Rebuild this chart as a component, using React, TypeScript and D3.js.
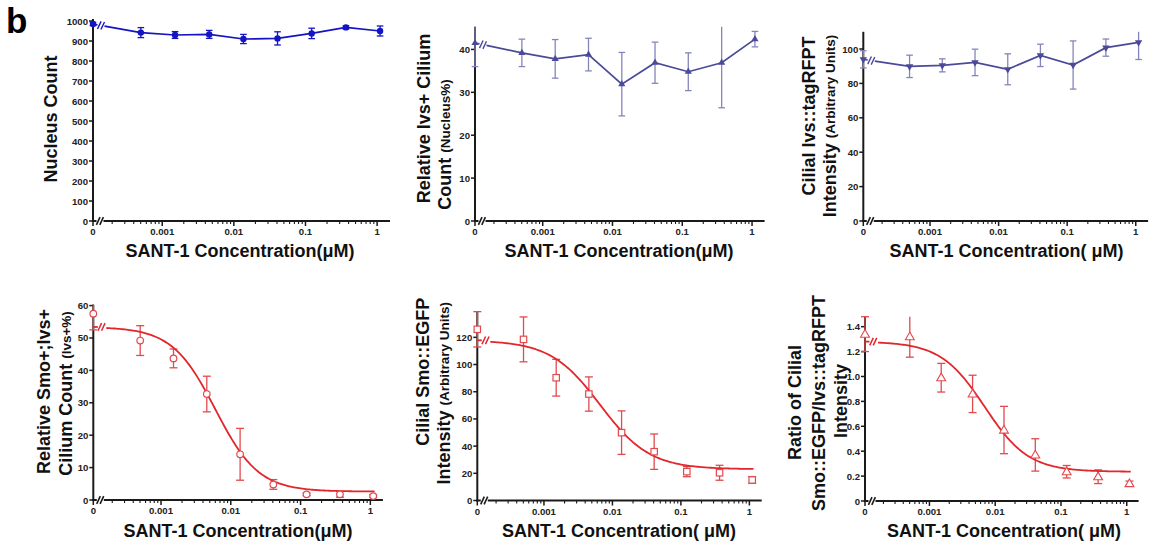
import React from 'react';
import * as d3 from 'd3';

// ---------- data ----------
const concentrations = [0, 0.000503, 0.00151, 0.00453, 0.0136, 0.0407, 0.122, 0.367, 1.1];
const xMajorTicks = [0.001, 0.01, 0.1, 1];
const xMajorLabels = ['0.001', '0.01', '0.1', '1'];

const nucleusMean = [985, 942, 930, 933, 910, 913, 938, 968, 950];
const nucleusErr = [8, 25, 17, 20, 23, 33, 26, 8, 25];
const nucleusTicks = [0, 100, 200, 300, 400, 500, 600, 700, 800, 900, 1000];

const ivsCountMean = [41.5, 39.2, 37.8, 38.8, 31.9, 36.9, 34.8, 36.9, 42.4];
const ivsCountErr = [5.5, 3.2, 4.5, 3.8, 7.4, 4.8, 4.4, 10.5, 1.8];
const ivsCountTicks = [0, 10, 20, 30, 40];

const ivsIntMean = [94, 89.9, 90.5, 92.2, 88.2, 96.3, 90.7, 100.8, 103.9];
const ivsIntErr = [5, 6.5, 3.8, 7.7, 9, 6.5, 14, 5, 10];
const ivsIntTicks = [0, 20, 40, 60, 80, 100];

const smoCountMean = [57.5, 49.2, 43.7, 32.7, 14.1, 4.8, 1.75, 1.75, 1.2];
const smoCountErr = [5, 4.6, 2.9, 5.5, 8, 1.5, 0.4, 0.9, 0.4];
const smoCountTicks = [0, 10, 20, 30, 40, 50, 60];
const smoCountFit = { top: 53.4, bottom: 2.6, ic50: 0.006, hill: 1.4 };

const smoIntMean = [125.9, 118.5, 90.3, 78.3, 49.9, 35.9, 21.2, 20.4, 15.1];
const smoIntErr = [13, 16.5, 13.5, 12.6, 16, 13, 3.7, 5.5, 2.5];
const smoIntTicks = [0, 20, 40, 60, 80, 100, 120];
const smoIntFit = { top: 117.8, bottom: 23, ic50: 0.0066, hill: 1.2 };

const ratioMean = [1.34, 1.32, 0.99, 0.86, 0.57, 0.37, 0.235, 0.195, 0.14];
const ratioErr = [0.14, 0.165, 0.115, 0.15, 0.19, 0.13, 0.05, 0.055, 0.02];
const ratioTicks = [0, 0.2, 0.4, 0.6, 0.8, 1.0, 1.2, 1.4];
const ratioFit = { top: 1.28, bottom: 0.235, ic50: 0.0069, hill: 1.3 };

const xAxisTitle = 'SANT-1 Concentration(\u03bcM)';
const xAxisTitleSp = 'SANT-1 Concentration( \u03bcM)';

// ---------- constants ----------
const LOG_MIN = Math.pow(10, -3.82);
const LOG_MAX = Math.pow(10, 0.18);
const FONT = '"Liberation Sans", Arial, Helvetica, sans-serif';
const AXIS = '#1a1a1a';
const TICK_FS = 9.6;

type Fit = { top: number; bottom: number; ic50: number; hill: number };
type Part = { t: string; small?: boolean };
type LabelLine = { x: number; y: number; parts: Part[] };
type Marker = 'dot' | 'triUp' | 'triDown' | 'openCircle' | 'openSquare' | 'openTri';

type PanelProps = {
  x0: number;
  width: number;
  y0: number;
  yTopPx: number;
  yMax: number;
  yTicks: number[];
  yFmt: (v: number) => string;
  means: number[];
  errs: number[];
  lineColor: string;
  errColor: string;
  marker: Marker;
  fit?: Fit;
  yLabel: LabelLine[];
  xTitle: string;
  xTitleX: number;
  xTitleY: number;
};

function slash(cx: number, cy: number, color: string, key: string, w = 1.6) {
  return <line key={key} x1={cx - 1.8} y1={cy + 3.8} x2={cx + 1.8} y2={cy - 3.8} stroke={color} strokeWidth={w} />;
}

function markerEl(m: Marker, cx: number, cy: number, color: string, key: string) {
  switch (m) {
    case 'dot':
      return <circle key={key} cx={cx} cy={cy} r={3.2} fill={color} />;
    case 'triUp': {
      const p = d3.symbol(d3.symbolTriangle, 22)();
      return <path key={key} d={p || ''} transform={`translate(${cx},${cy})`} fill={color} />;
    }
    case 'triDown': {
      const p = d3.symbol(d3.symbolTriangle, 24)();
      return <path key={key} d={p || ''} transform={`translate(${cx},${cy}) rotate(180)`} fill={color} />;
    }
    case 'openCircle':
      return <circle key={key} cx={cx} cy={cy} r={3.3} fill="white" stroke={color} strokeWidth={1.2} />;
    case 'openSquare':
      return <rect key={key} x={cx - 3.2} y={cy - 3.2} width={6.4} height={6.4} fill="white" stroke={color} strokeWidth={1.2} />;
    case 'openTri': {
      const p = d3.symbol(d3.symbolTriangle, 34)();
      return <path key={key} d={p || ''} transform={`translate(${cx},${cy + 0.5})`} fill="white" stroke={color} strokeWidth={1.1} />;
    }
  }
}

function Panel(props: PanelProps) {
  const { x0, width, y0, yTopPx, yMax, yTicks, yFmt, means, errs, lineColor, errColor, marker, fit, yLabel, xTitle, xTitleX, xTitleY } = props;
  const logStart = x0 + 10.5;
  const xl = d3.scaleLog().domain([LOG_MIN, LOG_MAX]).range([logStart, x0 + width]);
  const xp = (v: number) => (v === 0 ? x0 : xl(v));
  const y = d3.scaleLinear().domain([0, yMax]).range([y0, yTopPx]);

  const els: React.ReactNode[] = [];

  // axes
  els.push(<line key="yax" x1={x0} y1={y0 + 1} x2={x0} y2={yTopPx} stroke={AXIS} strokeWidth={2} />);
  els.push(<line key="xax0" x1={x0 - 1} y1={y0} x2={x0 + 3.5} y2={y0} stroke={AXIS} strokeWidth={2} />);
  els.push(slash(x0 + 5.2, y0, AXIS, 'xs1'));
  els.push(slash(x0 + 8.6, y0, AXIS, 'xs2'));
  els.push(<line key="xax1" x1={x0 + 10.5} y1={y0} x2={x0 + width} y2={y0} stroke={AXIS} strokeWidth={2} />);

  // y ticks
  yTicks.forEach((t, i) => {
    const yy = y(t);
    els.push(<line key={`yt${i}`} x1={x0 - 4} y1={yy} x2={x0} y2={yy} stroke={AXIS} strokeWidth={1.5} />);
    els.push(
      <text key={`ytl${i}`} x={x0 - 5} y={yy} textAnchor="end" dominantBaseline="central" fontSize={TICK_FS} fontWeight="bold" fontFamily={FONT} fill="#222">
        {yFmt(t)}
      </text>
    );
  });

  // x ticks
  els.push(<line key="xt0" x1={x0} y1={y0} x2={x0} y2={y0 + 5} stroke={AXIS} strokeWidth={1.5} />);
  els.push(
    <text key="xtl0" x={x0} y={y0 + 10.5} textAnchor="middle" dominantBaseline="central" fontSize={TICK_FS} fontWeight="bold" fontFamily={FONT} fill="#222">
      0
    </text>
  );
  for (let k = -4; k <= 0; k++) {
    for (let m = 1; m <= 9; m++) {
      const v = m * Math.pow(10, k);
      if (v < LOG_MIN || v > LOG_MAX) continue;
      const xx = xl(v);
      const major = m === 1;
      els.push(<line key={`xm${k}_${m}`} x1={xx} y1={y0} x2={xx} y2={y0 + (major ? 5 : 3)} stroke={AXIS} strokeWidth={major ? 1.5 : 1.1} />);
    }
  }
  xMajorTicks.forEach((t, i) => {
    els.push(
      <text key={`xtl${i + 1}`} x={xl(t)} y={y0 + 10.5} textAnchor="middle" dominantBaseline="central" fontSize={TICK_FS} fontWeight="bold" fontFamily={FONT} fill="#222">
        {xMajorLabels[i]}
      </text>
    );
  });

  // error bars
  const capW = fit ? 4 : 3.3;
  concentrations.forEach((c, i) => {
    const cx = xp(c);
    const lo = Math.max(0, means[i] - errs[i]);
    const hiRaw = means[i] + errs[i];
    const hi = Math.min(yMax, hiRaw);
    els.push(<line key={`eb${i}`} x1={cx} y1={y(lo)} x2={cx} y2={y(hi)} stroke={errColor} strokeWidth={1.3} />);
    els.push(<line key={`ebl${i}`} x1={cx - capW} y1={y(lo)} x2={cx + capW} y2={y(lo)} stroke={errColor} strokeWidth={1.3} />);
    if (hiRaw <= yMax) {
      els.push(<line key={`ebh${i}`} x1={cx - capW} y1={y(hi)} x2={cx + capW} y2={y(hi)} stroke={errColor} strokeWidth={1.3} />);
    }
  });

  if (fit) {
    const f = (x: number) => fit.bottom + (fit.top - fit.bottom) / (1 + Math.pow(x / fit.ic50, fit.hill));
    const yTop = y(fit.top);
    els.push(<line key="fpre" x1={x0} y1={yTop} x2={x0 + 4.5} y2={yTop} stroke={lineColor} strokeWidth={1.8} />);
    els.push(slash(x0 + 6.5, yTop, lineColor, 'fs1', 1.5));
    els.push(slash(x0 + 10, yTop, lineColor, 'fs2', 1.5));
    const lStart = Math.log10(xl.invert(x0 + 13));
    const lEnd = Math.log10(1.15);
    const n = 160;
    const pts: [number, number][] = d3.range(n + 1).map((i) => {
      const xv = Math.pow(10, lStart + ((lEnd - lStart) * i) / n);
      return [xl(xv), y(f(xv))];
    });
    const path = d3.line()(pts) || '';
    els.push(<path key="fit" d={path} fill="none" stroke={lineColor} strokeWidth={1.8} />);
  } else {
    const p0: [number, number] = [xp(concentrations[0]), y(means[0])];
    const p1: [number, number] = [xp(concentrations[1]), y(means[1])];
    const interp = (xx: number) => p0[1] + ((xx - p0[0]) / (p1[0] - p0[0])) * (p1[1] - p0[1]);
    const gA = x0 + 4.5;
    const gB = x0 + 11.5;
    els.push(<line key="lpre" x1={p0[0]} y1={p0[1]} x2={gA} y2={interp(gA)} stroke={lineColor} strokeWidth={1.7} />);
    els.push(slash(x0 + 6.3, interp(x0 + 6.3), lineColor, 'ls1', 1.4));
    els.push(slash(x0 + 9.7, interp(x0 + 9.7), lineColor, 'ls2', 1.4));
    const pts: [number, number][] = [[gB, interp(gB)]];
    for (let i = 1; i < concentrations.length; i++) pts.push([xp(concentrations[i]), y(means[i])]);
    els.push(<path key="dline" d={d3.line()(pts) || ''} fill="none" stroke={lineColor} strokeWidth={1.7} />);
  }

  // markers
  concentrations.forEach((c, i) => {
    els.push(markerEl(marker, xp(c), y(means[i]), fit ? errColor : lineColor, `mk${i}`));
  });

  // y label
  yLabel.forEach((ln, li) => {
    els.push(
      <text
        key={`yl${li}`}
        transform={`translate(${ln.x},${ln.y}) rotate(-90)`}
        textAnchor="middle"
        dominantBaseline="central"
        fontFamily={FONT}
        fontWeight="bold"
        fontSize={18}
        fill="#111"
      >
        {ln.parts.map((p, pi) => (
          <tspan key={pi} fontSize={p.small ? 13.5 : 18}>
            {p.t}
          </tspan>
        ))}
      </text>
    );
  });

  // x title
  els.push(
    <text key="xtitle" x={xTitleX} y={xTitleY} textAnchor="middle" fontFamily={FONT} fontWeight="bold" fontSize={18} fill="#111">
      {xTitle}
    </text>
  );

  return <g>{els}</g>;
}

const fmtInt = (v: number) => d3.format('d')(v);
const fmt1 = (v: number) => (v === 0 ? '0' : d3.format('.1f')(v));

export default function App() {
  const blue = '#1414c4';
  const slate = '#4a4a98';
  const slateErr = '#8585be';
  const red = '#e3262b';
  const redErr = '#e24a4e';
  return (
    <svg width={1153} height={548} style={{ position: 'absolute', left: 0, top: 0, background: 'white' }}>
      <rect x={0} y={0} width={1153} height={548} fill="white" />
      <text x={6} y={33} fontFamily={FONT} fontWeight="bold" fontSize={35} fill="#000">
        b
      </text>
      <Panel
        x0={93}
        width={297}
        y0={221}
        yTopPx={19}
        yMax={1010}
        yTicks={nucleusTicks}
        yFmt={fmtInt}
        means={nucleusMean}
        errs={nucleusErr}
        lineColor={blue}
        errColor={blue}
        marker="dot"
        yLabel={[{ x: 50.5, y: 119, parts: [{ t: 'Nucleus Count' }] }]}
        xTitle={xAxisTitle}
        xTitleX={240}
        xTitleY={256.5}
      />
      <Panel
        x0={475}
        width={289.6}
        y0={221}
        yTopPx={26.7}
        yMax={45.3}
        yTicks={ivsCountTicks}
        yFmt={fmtInt}
        means={ivsCountMean}
        errs={ivsCountErr}
        lineColor={slate}
        errColor={slateErr}
        marker="triUp"
        yLabel={[
          { x: 424, y: 118.5, parts: [{ t: 'Relative Ivs+ Cilium' }] },
          { x: 445, y: 144.5, parts: [{ t: 'Count ' }, { t: '(Nucleus%)', small: true }] },
        ]}
        xTitle={xAxisTitle}
        xTitleX={619}
        xTitleY={256.5}
      />
      <Panel
        x0={863.3}
        width={284.8}
        y0={221}
        yTopPx={31.8}
        yMax={110}
        yTicks={ivsIntTicks}
        yFmt={fmtInt}
        means={ivsIntMean}
        errs={ivsIntErr}
        lineColor={slate}
        errColor={slateErr}
        marker="triDown"
        yLabel={[
          { x: 809, y: 116, parts: [{ t: 'Cilial Ivs::tagRFPT' }] },
          { x: 830, y: 126, parts: [{ t: 'Intensity ' }, { t: '(Arbitrary Units)', small: true }] },
        ]}
        xTitle={xAxisTitleSp}
        xTitleX={1006.5}
        xTitleY={256.5}
      />
      <Panel
        x0={93.3}
        width={289.6}
        y0={500}
        yTopPx={304.6}
        yMax={60.3}
        yTicks={smoCountTicks}
        yFmt={fmtInt}
        means={smoCountMean}
        errs={smoCountErr}
        lineColor={red}
        errColor={redErr}
        marker="openCircle"
        fit={smoCountFit}
        yLabel={[
          { x: 44, y: 391.5, parts: [{ t: 'Relative Smo+;Ivs+' }] },
          { x: 65.8, y: 393.5, parts: [{ t: 'Cilium Count ' }, { t: '(Ivs+%)', small: true }] },
        ]}
        xTitle={xAxisTitle}
        xTitleX={238}
        xTitleY={536.5}
      />
      <Panel
        x0={477.3}
        width={284.4}
        y0={500.5}
        yTopPx={311.5}
        yMax={139}
        yTicks={smoIntTicks}
        yFmt={fmtInt}
        means={smoIntMean}
        errs={smoIntErr}
        lineColor={red}
        errColor={redErr}
        marker="openSquare"
        fit={smoIntFit}
        yLabel={[
          { x: 422.5, y: 371.7, parts: [{ t: 'Cilial Smo::EGFP' }] },
          { x: 444, y: 393.3, parts: [{ t: 'Intensity ' }, { t: '(Arbitrary Units)', small: true }] },
        ]}
        xTitle={xAxisTitleSp}
        xTitleX={619}
        xTitleY={536.5}
      />
      <Panel
        x0={865}
        width={273.6}
        y0={501}
        yTopPx={316.7}
        yMax={1.48}
        yTicks={ratioTicks}
        yFmt={fmt1}
        means={ratioMean}
        errs={ratioErr}
        lineColor={red}
        errColor={redErr}
        marker="openTri"
        fit={ratioFit}
        yLabel={[
          { x: 795, y: 402.5, parts: [{ t: 'Ratio of Cilial' }] },
          { x: 818.5, y: 403, parts: [{ t: 'Smo::EGFP/Ivs::tagRFPT' }] },
          { x: 840.5, y: 401, parts: [{ t: 'Intensity' }] },
        ]}
        xTitle={xAxisTitleSp}
        xTitleX={1004}
        xTitleY={536.5}
      />
    </svg>
  );
}
